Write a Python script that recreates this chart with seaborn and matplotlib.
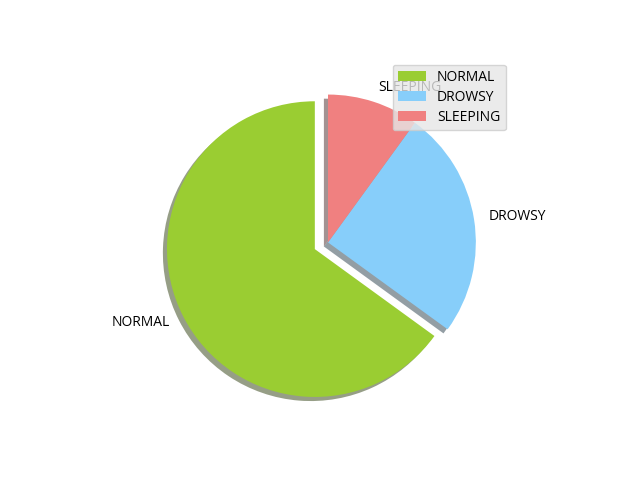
import matplotlib
matplotlib.use('Agg')
import matplotlib.pyplot as plt
import seaborn as sns

# Datos del gráfico
labels = ['NORMAL', 'DROWSY', 'SLEEPING']
sizes = [65, 25, 10]
colors = ['yellowgreen', 'lightskyblue', 'lightcoral']
explode = [0.1, 0, 0]

sns.set_style("white")
plt.rcParams['font.family'] = ['Open Sans', 'DejaVu Sans']
plt.rcParams['font.size'] = 10
plt.rcParams['text.color'] = 'black'

fig, ax = plt.subplots(figsize=(6.4, 4.8), dpi=100)
ax.pie(sizes, labels=labels, colors=colors, explode=explode,
       shadow=True, startangle=90, wedgeprops={'linewidth': 0})
leg = ax.legend(loc='upper right', fontsize=10, labelspacing=0.35)
leg.get_frame().set_facecolor('#e6e6e6')
leg.get_frame().set_edgecolor('#cccccc')
plt.savefig('out.png', dpi=100)
plt.close()
